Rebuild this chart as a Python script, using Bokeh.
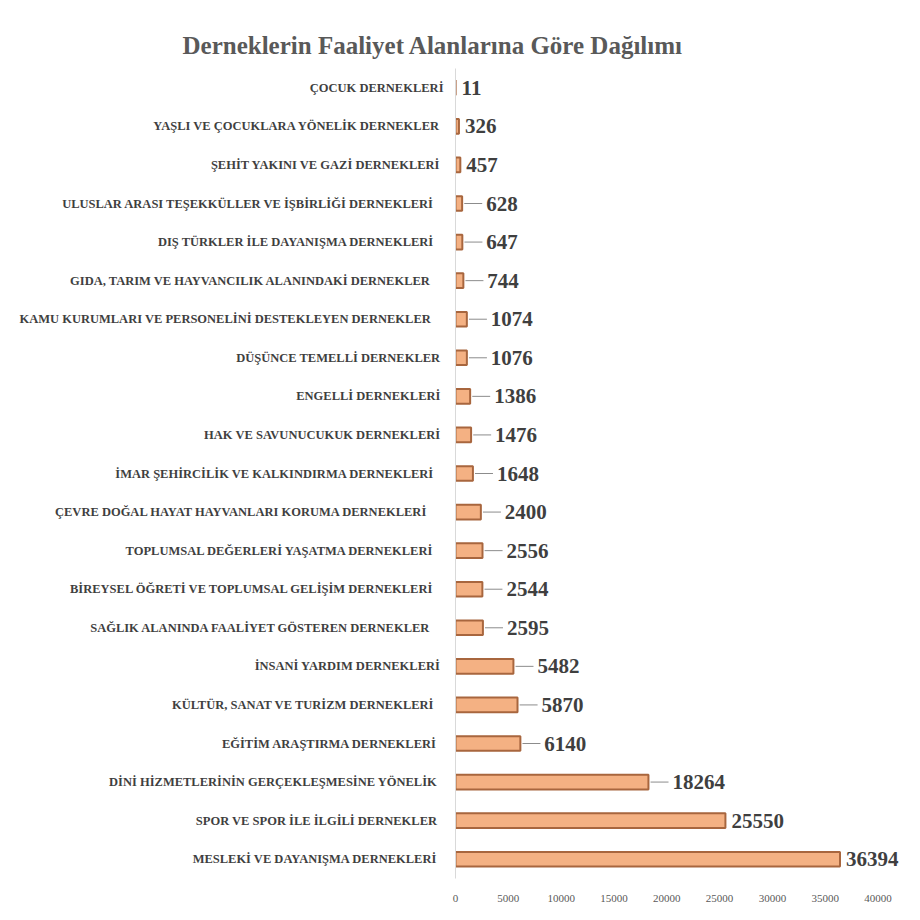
from bokeh.plotting import figure
from bokeh.models import FactorRange, Range1d, ColumnDataSource, FixedTicker
from bokeh.core.properties import value
from bokeh.embed import file_html
from bokeh.resources import INLINE

title_text = "Derneklerin Faaliyet Alanlarına Göre Dağılımı"

categories = [
    "ÇOCUK DERNEKLERİ",
    "YAŞLI VE ÇOCUKLARA YÖNELİK  DERNEKLER",
    "ŞEHİT  YAKINI VE GAZİ DERNEKLERİ",
    "ULUSLAR  ARASI TEŞEKKÜLLER  VE İŞBİRLİĞİ  DERNEKLERİ",
    "DIŞ TÜRKLER  İLE  DAYANIŞMA  DERNEKLERİ",
    "GIDA, TARIM  VE HAYVANCILIK  ALANINDAKİ   DERNEKLER",
    "KAMU  KURUMLARI  VE PERSONELİNİ  DESTEKLEYEN  DERNEKLER",
    "DÜŞÜNCE  TEMELLİ DERNEKLER",
    "ENGELLİ  DERNEKLERİ",
    "HAK VE SAVUNUCUKUK  DERNEKLERİ",
    "İMAR  ŞEHİRCİLİK  VE KALKINDIRMA  DERNEKLERİ",
    "ÇEVRE  DOĞAL  HAYAT  HAYVANLARI  KORUMA  DERNEKLERİ",
    "TOPLUMSAL  DEĞERLERİ  YAŞATMA  DERNEKLERİ",
    "BİREYSEL  ÖĞRETİ VE TOPLUMSAL  GELİŞİM  DERNEKLERİ",
    "SAĞLIK  ALANINDA  FAALİYET  GÖSTEREN  DERNEKLER",
    "İNSANİ YARDIM  DERNEKLERİ",
    "KÜLTÜR,  SANAT VE TURİZM   DERNEKLERİ",
    "EĞİTİM  ARAŞTIRMA  DERNEKLERİ",
    "DİNİ HİZMETLERİNİN  GERÇEKLEŞMESİNE  YÖNELİK",
    "SPOR VE SPOR İLE  İLGİLİ  DERNEKLER",
    "MESLEKİ  VE DAYANIŞMA  DERNEKLERİ",
]
counts = [11, 326, 457, 628, 647, 744, 1074, 1076, 1386, 1476, 1648,
          2400, 2556, 2544, 2595, 5482, 5870, 6140, 18264, 25550, 36394]
x_ticks = [0, 5000, 10000, 15000, 20000, 25000, 30000, 35000, 40000]

BAR_FILL = "#F4B183"
BAR_LINE = "#A8663E"
TEXT_DARK = "#3F3F3F"
SERIF = "Liberation Serif"

# leader lines for mid-sized values, labels pushed further right for them
has_leader = [500 < c < 20000 for c in counts]
label_off = [24 if h else 6 for h in has_leader]
lead_x0 = [c + 200 for c in counts]
lead_x1 = [c + 1900 for c in counts]

src = ColumnDataSource(dict(cat=categories, val=counts,
                            lbl=[str(c) for c in counts], off=label_off))
lead_src = ColumnDataSource(dict(
    cat=[c for c, h in zip(categories, has_leader) if h],
    x0=[x for x, h in zip(lead_x0, has_leader) if h],
    x1=[x for x, h in zip(lead_x1, has_leader) if h],
))

p = figure(
    width=904, height=904,
    y_range=FactorRange(*list(reversed(categories)), range_padding=0),
    x_range=Range1d(0, 42500),
    output_backend="svg", toolbar_location=None,
    min_border_left=455, min_border_right=0,
    min_border_top=68, min_border_bottom=25,
    title=title_text,
)

p.title.align = "left"
p.title.offset = -273
p.title.text_font = SERIF
p.title.text_font_style = "bold"
p.title.text_font_size = "25px"
p.title.text_color = "#595959"
p.title.standoff = 20

p.hbar(y="cat", right="val", left=0, height=0.38, source=src,
       fill_color=BAR_FILL, line_color=BAR_LINE, line_width=2)

p.segment(x0="x0", x1="x1", y0="cat", y1="cat", source=lead_src,
          line_color="#8C8C8C", line_width=1)

p.text(x="val", y="cat", text="lbl", source=src, x_offset="off",
       text_font=value(SERIF), text_font_style="bold", text_font_size="21px",
       text_color=TEXT_DARK, text_baseline="middle", text_align="left")

p.xgrid.visible = False
p.ygrid.visible = False
p.outline_line_color = None

xa = p.xaxis[0]
xa.ticker = FixedTicker(ticks=x_ticks)
xa.axis_line_color = None
xa.major_tick_line_color = None
xa.minor_tick_line_color = None
xa.major_label_text_font = SERIF
xa.major_label_text_font_size = "11px"
xa.major_label_text_color = "#595959"
xa.major_label_standoff = 10

ya = p.yaxis[0]
ya.axis_line_color = "#D9D9D9"
ya.major_tick_line_color = None
ya.major_tick_out = 0
ya.major_label_standoff = 12
ya.major_label_text_font = SERIF
ya.major_label_text_font_style = "bold"
ya.major_label_text_font_size = "12.5px"
ya.major_label_text_color = TEXT_DARK

open("out.html", "w").write(file_html(p, INLINE))
